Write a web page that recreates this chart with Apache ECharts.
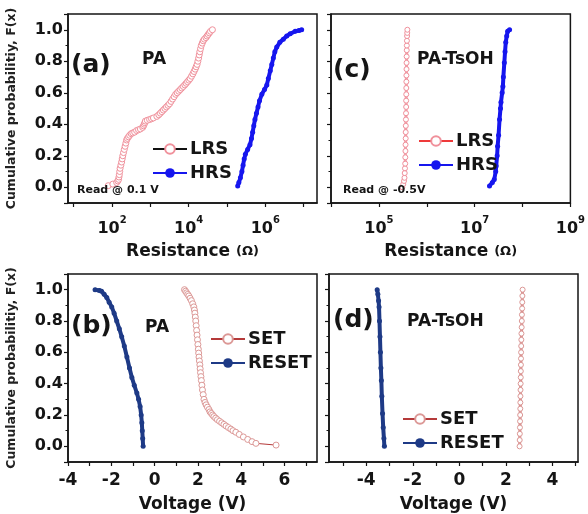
<!DOCTYPE html>
<html>
<head>
<meta charset="utf-8">
<script src="https://cdn.jsdelivr.net/npm/echarts@6.0.0/dist/echarts.min.js"></script>
<style>html,body{margin:0;padding:0;background:#fff}#main{width:588px;height:514px}</style>
</head>
<body>
<div id="main"></div>
<script>
// (a) PA, read @ 0.1 V  -- resistance as log10(R / ohm)
var paLrsLogR = [1.90, 2.02, 2.12, 2.15, 2.17, 2.18, 2.19, 2.20, 2.21, 2.23, 2.25, 2.265, 2.28, 2.30, 2.32, 2.34, 2.36, 2.38, 2.40, 2.43, 2.46, 2.50, 2.54, 2.59, 2.64, 2.69, 2.74, 2.80, 2.82, 2.84, 2.855, 2.87, 2.92, 2.98, 3.03, 3.08, 3.17, 3.22, 3.26, 3.30, 3.34, 3.38, 3.42, 3.46, 3.50, 3.54, 3.58, 3.62, 3.66, 3.70, 3.74, 3.78, 3.82, 3.86, 3.90, 3.935, 3.97, 4.005, 4.04, 4.075, 4.11, 4.14, 4.17, 4.195, 4.22, 4.24, 4.26, 4.275, 4.29, 4.31, 4.33, 4.355, 4.38, 4.41, 4.45, 4.48, 4.51, 4.54, 4.57, 4.62];
var paLrsF    = [0.01, 0.02, 0.03, 0.04, 0.05, 0.065, 0.08, 0.10, 0.12, 0.14, 0.16, 0.18, 0.20, 0.22, 0.24, 0.26, 0.28, 0.30, 0.31, 0.32, 0.33, 0.34, 0.345, 0.35, 0.36, 0.365, 0.37, 0.38, 0.39, 0.40, 0.41, 0.42, 0.425, 0.43, 0.435, 0.44, 0.45, 0.46, 0.47, 0.48, 0.49, 0.50, 0.51, 0.52, 0.53, 0.545, 0.56, 0.575, 0.59, 0.60, 0.61, 0.62, 0.63, 0.64, 0.65, 0.66, 0.67, 0.68, 0.69, 0.705, 0.72, 0.735, 0.75, 0.765, 0.78, 0.80, 0.82, 0.84, 0.86, 0.88, 0.90, 0.915, 0.93, 0.94, 0.95, 0.96, 0.97, 0.98, 0.99, 1.00];
var paHrsLogR = [5.28, 5.31, 5.35, 5.39, 5.42, 5.45, 5.48, 5.54, 5.60, 5.64, 5.67, 5.70, 5.73, 5.77, 5.81, 5.85, 5.91, 5.98, 6.04, 6.08, 6.13, 6.17, 6.21, 6.25, 6.30, 6.38, 6.47, 6.56, 6.65, 6.78, 6.88, 6.95];
var paHrsF    = [0.008, 0.03, 0.06, 0.10, 0.14, 0.18, 0.21, 0.24, 0.27, 0.31, 0.35, 0.39, 0.43, 0.47, 0.51, 0.55, 0.59, 0.62, 0.65, 0.69, 0.74, 0.78, 0.82, 0.86, 0.89, 0.92, 0.94, 0.96, 0.975, 0.99, 0.995, 1.00];

// (c) PA-TsOH, read @ -0.5 V
var tsLrsLogR = [5.49, 5.51, 5.525, 5.535, 5.54, 5.545, 5.55, 5.552, 5.555, 5.557, 5.56, 5.56, 5.562, 5.565, 5.567, 5.57, 5.57, 5.572, 5.573, 5.574, 5.575, 5.577, 5.578, 5.58, 5.582, 5.584, 5.586, 5.589, 5.592, 5.595];
var tsLrsF    = [0.00, 0.02, 0.04, 0.06, 0.09, 0.12, 0.15, 0.19, 0.23, 0.27, 0.31, 0.35, 0.39, 0.43, 0.47, 0.51, 0.55, 0.59, 0.63, 0.67, 0.71, 0.75, 0.79, 0.83, 0.87, 0.90, 0.93, 0.96, 0.98, 1.00];
var tsHrsLogR = [7.31, 7.37, 7.41, 7.44, 7.45, 7.47, 7.48, 7.50, 7.52, 7.54, 7.55, 7.575, 7.59, 7.60, 7.62, 7.635, 7.65, 7.67, 7.69, 7.73];
var tsHrsF    = [0.008, 0.03, 0.05, 0.10, 0.135, 0.20, 0.26, 0.33, 0.43, 0.50, 0.54, 0.60, 0.64, 0.70, 0.79, 0.86, 0.92, 0.96, 0.99, 1.00];

// (b) PA voltages
var paSetV   = [1.38, 1.43, 1.48, 1.53, 1.58, 1.64, 1.70, 1.76, 1.81, 1.84, 1.86, 1.88, 1.90, 1.92, 1.94, 1.96, 1.98, 2.00, 2.02, 2.035, 2.05, 2.07, 2.09, 2.105, 2.12, 2.14, 2.16, 2.185, 2.21, 2.245, 2.28, 2.33, 2.38, 2.44, 2.51, 2.56, 2.62, 2.68, 2.74, 2.82, 2.90, 3.00, 3.10, 3.20, 3.30, 3.41, 3.52, 3.62, 3.75, 3.91, 4.10, 4.30, 4.50, 4.68, 5.61];
var paSetF   = [1.00, 0.99, 0.98, 0.97, 0.96, 0.945, 0.93, 0.91, 0.89, 0.87, 0.85, 0.825, 0.80, 0.77, 0.74, 0.71, 0.68, 0.65, 0.62, 0.595, 0.57, 0.545, 0.52, 0.495, 0.47, 0.445, 0.42, 0.39, 0.36, 0.33, 0.30, 0.28, 0.265, 0.25, 0.235, 0.22, 0.21, 0.20, 0.19, 0.18, 0.17, 0.16, 0.15, 0.14, 0.13, 0.12, 0.11, 0.10, 0.09, 0.076, 0.06, 0.044, 0.03, 0.019, 0.008];
var paResetV = [-2.75, -2.55, -2.45, -2.33, -2.21, -2.10, -1.98, -1.87, -1.75, -1.63, -1.52, -1.40, -1.28, -1.16, -1.05, -0.94, -0.82, -0.74, -0.67, -0.62, -0.59, -0.57, -0.55, -0.53];
var paResetF = [1.00, 0.995, 0.99, 0.97, 0.95, 0.92, 0.89, 0.85, 0.80, 0.75, 0.70, 0.64, 0.57, 0.50, 0.44, 0.39, 0.34, 0.30, 0.255, 0.20, 0.15, 0.10, 0.05, 0.00];

// (d) PA-TsOH voltages
var tsSetV   = [2.72, 2.71, 2.705, 2.70, 2.69, 2.685, 2.68, 2.67, 2.665, 2.66, 2.655, 2.65, 2.647, 2.643, 2.64, 2.635, 2.63, 2.627, 2.623, 2.62, 2.615, 2.61, 2.605, 2.60, 2.595, 2.59];
var tsSetF   = [1.00, 0.96, 0.92, 0.88, 0.84, 0.80, 0.76, 0.72, 0.68, 0.64, 0.60, 0.56, 0.52, 0.48, 0.44, 0.40, 0.36, 0.32, 0.28, 0.24, 0.20, 0.16, 0.12, 0.08, 0.04, 0.00];
var tsResetV = [-3.53, -3.50, -3.47, -3.45, -3.43, -3.41, -3.39, -3.37, -3.35, -3.33, -3.30, -3.27, -3.24, -3.22];
var tsResetF = [1.00, 0.97, 0.93, 0.89, 0.80, 0.70, 0.60, 0.50, 0.42, 0.32, 0.21, 0.12, 0.05, 0.00];

var yTickLabels = ['0.0', '0.2', '0.4', '0.6', '0.8', '1.0'];

var FONT = 'DejaVu Sans';
var INK = '#151515';

function zip(xs, ys) {
  var out = [];
  for (var i = 0; i < xs.length; i++) out.push([xs[i], ys[i]]);
  return out;
}

function yAxisFor(gi, withLabels) {
  return {
    type: 'value', gridIndex: gi, min: -0.1, max: 1.1,
    name: withLabels ? 'Cumulative probabilitiy, F(x)' : '',
    nameLocation: 'middle', nameGap: 50, nameRotate: 90,
    nameTextStyle: {fontFamily: FONT, fontWeight: 'bold', fontSize: 12.5, color: '#222'},
    axisLine: {show: true, onZero: false, lineStyle: {color: INK, width: 1.5}},
    axisTick: {show: true, length: 4, lineStyle: {color: INK, width: 1.2}},
    minorTick: {show: true, splitNumber: 2, length: 2.5, lineStyle: {color: INK, width: 1}},
    splitLine: {show: false},
    axisLabel: {
      show: withLabels, margin: 5, fontFamily: FONT, fontWeight: 'bold', fontSize: 16, color: INK,
      showMinLabel: false, showMaxLabel: false,
      formatter: function (v) {
        var k = Math.round(v * 5);
        if (Math.abs(v * 5 - k) > 1e-6 || k < 0 || k > 5) return '';
        return yTickLabels[k];
      }
    }
  };
}

function xAxisBase(gi, min, max) {
  return {
    type: 'value', gridIndex: gi, min: min, max: max,
    nameLocation: 'middle',
    axisLine: {show: true, onZero: false, lineStyle: {color: INK, width: 1.5}},
    axisTick: {show: true, length: 4, lineStyle: {color: INK, width: 1.2}},
    splitLine: {show: false}
  };
}

var supRich = {
  b: {fontFamily: FONT, fontWeight: 'bold', fontSize: 16, color: INK, verticalAlign: 'bottom', lineHeight: 22},
  s: {fontFamily: FONT, fontWeight: 'bold', fontSize: 10, color: INK, verticalAlign: 'top', lineHeight: 22}
};
var nameRichR = {
  r: {fontFamily: FONT, fontWeight: 'bold', fontSize: 17, color: INK},
  o: {fontFamily: FONT, fontWeight: 'bold', fontSize: 13, color: INK}
};

function powLabel(parity) {
  return function (v) {
    var k = Math.round(v);
    if (Math.abs(v - k) > 1e-6 || Math.abs(k % 2) !== parity) return '';
    return '{b|10}{s|' + k + '}';
  };
}
function voltLabel(v) {
  var k = Math.round(v);
  if (Math.abs(v - k) > 1e-6 || k % 2 !== 0) return '';
  return String(k);
}

var xa = xAxisBase(0, 0.85, 7.35);
xa.splitNumber = 6;
xa.name = '{r|Resistance }{o|(Ω)}';
xa.nameGap = 40;
xa.nameTextStyle = {rich: nameRichR};
xa.axisLabel = {margin: 12, formatter: powLabel(0), rich: supRich, showMinLabel: false, showMaxLabel: false};

var xc = xAxisBase(1, 4, 9);
xc.interval = 1;
xc.name = '{r|Resistance }{o|(Ω)}';
xc.nameGap = 40;
xc.nameTextStyle = {rich: nameRichR};
xc.axisLabel = {margin: 12, formatter: powLabel(1), rich: supRich};

var textStyleTick = {fontFamily: FONT, fontWeight: 'bold', fontSize: 17, color: INK};

var xb = xAxisBase(2, -4, 7.5);
xb.interval = 1;
xb.name = 'Voltage (V)';
xb.nameGap = 34;
xb.nameTextStyle = {fontFamily: FONT, fontWeight: 'bold', fontSize: 17, color: INK};
xb.axisLabel = Object.assign({margin: 10, formatter: voltLabel, showMaxLabel: false}, textStyleTick);

var xd = xAxisBase(3, -5.6, 5.1);
xd.splitNumber = 10;
xd.name = 'Voltage (V)';
xd.nameGap = 34;
xd.nameTextStyle = {fontFamily: FONT, fontWeight: 'bold', fontSize: 17, color: INK};
xd.axisLabel = Object.assign({margin: 10, formatter: voltLabel, showMinLabel: false, showMaxLabel: false}, textStyleTick);

var pink = '#f0909b';
var blue = '#1616ee';
var setLine = '#b53a3a';
var setMark = '#dc9896';
var navy = '#1e3a86';

function hollow(name, gi, data, mark, line, size, lw) {
  return {
    type: 'line', name: name, xAxisIndex: gi, yAxisIndex: gi, data: data,
    symbol: 'circle', symbolSize: size, showAllSymbol: true,
    itemStyle: {color: '#fff', borderColor: mark, borderWidth: 1},
    lineStyle: {color: line, width: lw}
  };
}
function filled(name, gi, data, col, size, lw) {
  return {
    type: 'line', name: name, xAxisIndex: gi, yAxisIndex: gi, data: data,
    symbol: 'circle', symbolSize: size, showAllSymbol: true,
    itemStyle: {color: col},
    lineStyle: {color: col, width: lw}
  };
}

function legendAt(left, top, items) {
  return {
    left: left, top: top, orient: 'vertical', itemWidth: 34, itemHeight: 12, itemGap: 6,
    selectedMode: false, data: items,
    formatter: function (n) { return n.split('_')[0]; },
    textStyle: {fontFamily: FONT, fontWeight: 'bold', fontSize: 18, color: INK, padding: [0, 0, 0, -2]}
  };
}

function label(text, left, top, size) {
  return {
    type: 'text', left: left, top: top, z: 50,
    style: {text: text, fill: INK, font: 'bold ' + size + 'px "' + FONT + '"'}
  };
}

var chart = echarts.init(document.getElementById('main'));
chart.setOption({
  animation: false,
  backgroundColor: '#fff',
  grid: [
    {left: 68, top: 14, width: 249, height: 189, show: true, borderColor: INK, borderWidth: 1.5},
    {left: 331, top: 14, width: 246, height: 189, show: true, borderColor: INK, borderWidth: 1.5},
    {left: 68, top: 274, width: 249, height: 189, show: true, borderColor: INK, borderWidth: 1.5},
    {left: 329, top: 274, width: 249, height: 189, show: true, borderColor: INK, borderWidth: 1.5}
  ],
  xAxis: [xa, xc, xb, xd],
  yAxis: [yAxisFor(0, true), yAxisFor(1, false), yAxisFor(2, true), yAxisFor(3, false)],
  legend: [
    legendAt(147, 135, [{name: 'LRS_a', lineStyle: {color: '#111', width: 2}}, {name: 'HRS_a', lineStyle: {width: 2}}]),
    legendAt(413, 127, [{name: 'LRS_c', lineStyle: {color: '#ee3a3a', width: 2}}, {name: 'HRS_c', lineStyle: {width: 2}}]),
    legendAt(205, 325, [{name: 'SET_b', lineStyle: {color: setLine, width: 2}}, {name: 'RESET_b', lineStyle: {width: 2}}]),
    legendAt(397, 405, [{name: 'SET_d', lineStyle: {color: setLine, width: 2}}, {name: 'RESET_d', lineStyle: {width: 2}}])
  ],
  graphic: [
    label('(a)', 71, 53, 25),
    label('PA', 142, 51, 17),
    label('Read @ 0.1 V', 77, 185, 11),
    label('(c)', 333, 58, 25),
    label('PA-TsOH', 417, 51, 17),
    label('Read @ -0.5V', 343, 185, 11),
    label('(b)', 71, 314, 25),
    label('PA', 145, 319, 17),
    label('(d)', 333, 308, 25),
    label('PA-TsOH', 407, 313, 17)
  ],
  series: [
    hollow('LRS_a', 0, zip(paLrsLogR, paLrsF), pink, '#f4a9b1', 6, 1),
    filled('HRS_a', 0, zip(paHrsLogR, paHrsF), blue, 5, 4),
    hollow('LRS_c', 1, zip(tsLrsLogR, tsLrsF), pink, '#f3a2ab', 5, 3),
    filled('HRS_c', 1, zip(tsHrsLogR, tsHrsF), blue, 5, 4),
    hollow('SET_b', 2, zip(paSetV, paSetF), setMark, setLine, 6, 1),
    filled('RESET_b', 2, zip(paResetV, paResetF), navy, 5, 4),
    hollow('SET_d', 3, zip(tsSetV, tsSetF), setMark, '#d9908e', 5, 3),
    filled('RESET_d', 3, zip(tsResetV, tsResetF), navy, 5, 4)
  ]
});
</script>
</body>
</html>
